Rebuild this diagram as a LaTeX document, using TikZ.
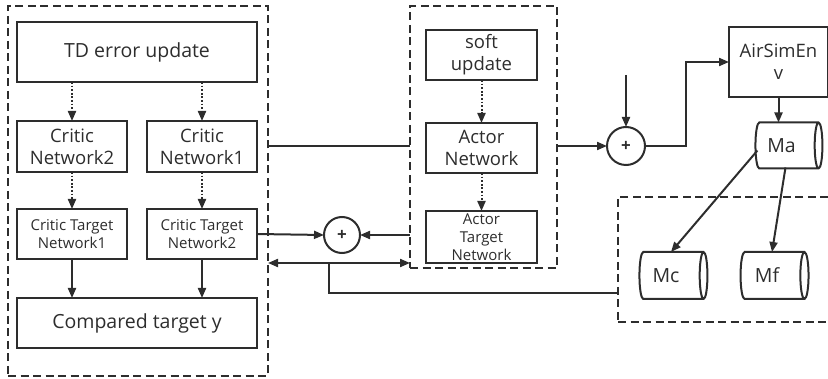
\documentclass[tikz,border=0pt]{standalone}
\usepackage{fontspec}
\setmainfont{Open Sans}
\usetikzlibrary{arrows.meta,shapes.geometric,calc}
\definecolor{ink}{RGB}{45,45,45}
\begin{document}
\begin{tikzpicture}[x=1pt,y=-1pt,
  every node/.style={inner sep=0pt,outer sep=0pt},
  lw/.style={line width=2pt,draw=ink},
  box/.style={lw,rectangle,align=center,text=ink},
  dbox/.style={line width=1.8pt,draw=ink,dash pattern=on 8pt off 4.5pt},
  con/.style={line width=2pt,draw=ink},
  arr/.style={con,-{Triangle[length=10pt,width=8pt]}},
  darr/.style={con,dash pattern=on 1.8pt off 1.8pt,-{Triangle[length=10pt,width=8pt]}},
  sum/.style={lw,circle,minimum size=36pt,text=ink,font=\fontsize{17}{17}\selectfont\bfseries},
  cyl/.style={lw,cylinder,shape aspect=0.55,minimum width=46pt,minimum height=67pt,font=\fontsize{19.5}{19.5}\selectfont,text=ink},
  big/.style={font=\fontsize{19.5}{22}\selectfont},
  mid/.style={font=\fontsize{18.5}{22}\selectfont},
  sml/.style={font=\fontsize{15}{18}\selectfont}]
\useasboundingbox (0,0) rectangle (828,379);
\clip (0,0) rectangle (828,379);
% dashed groups
\node[dbox,minimum width=260pt,minimum height=370pt] (L) at (138,191) {};
\node[dbox,minimum width=147pt,minimum height=262pt] (M) at (483.5,137) {};
\node[dbox,minimum width=230pt,minimum height=125pt] (R) at (733,259.5) {};
% left group
\node[box,big,minimum width=240pt,minimum height=60pt] (TD) at (137,52) {TD error update};
\node[box,mid,minimum width=110pt,minimum height=51pt] (CN2) at (72,146.5) {Critic\\Network2};
\node[box,mid,minimum width=110pt,minimum height=51pt] (CN1) at (202,146.5) {Critic\\Network1};
\node[box,sml,minimum width=110pt,minimum height=50pt] (CT1) at (72,234) {Critic Target\\Network1};
\node[box,sml,minimum width=110pt,minimum height=50pt] (CT2) at (202,234) {Critic Target\\Network2};
\node[box,big,minimum width=240pt,minimum height=50pt] (CY) at (137,323) {Compared target y};
% middle group
\node[box,mid,minimum width=111pt,minimum height=50pt] (SU) at (481.5,55) {soft\\update};
\node[box,mid,minimum width=111pt,minimum height=50pt] (AN) at (481.5,148) {Actor\\Network};
\node[box,font=\fontsize{15}{18}\selectfont,minimum width=111pt,minimum height=52pt] (AT) at (481.5,237) {Actor\\Target\\Network};
% sums
\node[sum] (P1) at (342,235) {+};
\node[sum,minimum size=38pt] (P2) at (626,146) {+};
% env
\node[box,mid,minimum width=99pt,minimum height=70pt] (AE) at (778.5,62) {AirSimEn\\v};
\node[cyl] (Ma) at (786.5,145.5) {Ma\hspace*{10pt}};
\node[cyl,minimum height=68pt,minimum width=47pt] (Mc) at (671,275.5) {Mc\hspace*{10pt}};
\node[cyl,minimum height=68pt,minimum width=47pt] (Mf) at (772,275.5) {Mf\hspace*{10pt}};
% coordinates
\coordinate (Ttop) at (626,75);
\coordinate (Bend) at (686,146);
\coordinate (DA) at (268,263);
\coordinate (DB) at (410,263);
\coordinate (Dm) at (329,263);
\coordinate (Dl) at (329,293);
% connectors left
\draw[darr] (TD.south -| CN2) -- (CN2.north);
\draw[darr] (TD.south -| CN1) -- (CN1.north);
\draw[darr] (CN2) -- (CT1);
\draw[darr] (CN1) -- (CT2);
\draw[arr] (CT1) -- (CY.north -| CT1);
\draw[arr] (CT2) -- (CY.north -| CT2);
% middle connectors
\draw[con] (L.east |- CN1) -- (M.west |- CN1);
\draw[arr] (CT2.east) -- (P1.west);
\draw[arr] (M.west |- P1) -- (P1.east);
\draw[con,{Triangle[length=10pt,width=8pt]}-{Triangle[length=10pt,width=8pt]}] (DA) -- (DB);
\draw[con] (Dm) -- (Dl) -- (R.west |- Dl);
\draw[darr] (SU) -- (AN);
\draw[darr] (AN) -- (AT);
% right connectors
\draw[arr] (M.east |- P2) -- (P2.west);
\draw[arr] (Ttop) -- (P2.north);
\draw[arr] (P2.east) -- (Bend) |- (AE.west);
\draw[arr] (AE.south) -- (AE.south |- Ma.north);
\draw[arr] ([shift={(2,5)}]Ma.west) -- (Mc.north);
\draw[arr] ([shift={(-1,-1)}]Ma.south) -- (Mf.north);
\end{tikzpicture}
\end{document}
